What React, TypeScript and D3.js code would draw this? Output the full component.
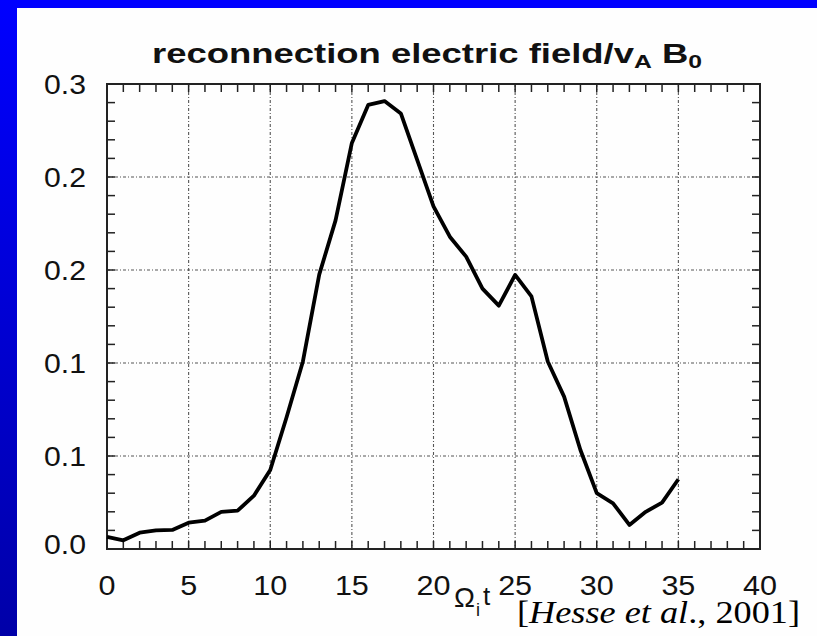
import React from "react";
import * as d3 from "d3";

const timeSteps = [0,1,2,3,4,5,6,7,8,9,10,11,12,13,14,15,16,17,18,19,20,21,22,23,24,25,26,27,28,29,30,31,32,33,34,35];
const efield = [0.0078,0.0056,0.0105,0.012,0.0123,0.017,0.0183,0.024,0.0247,0.0344,0.051,0.085,0.121,0.177,0.212,0.262,0.2865,0.289,0.281,0.251,0.221,0.2015,0.1886,0.168,0.157,0.1768,0.163,0.121,0.0983,0.0639,0.036,0.0295,0.0155,0.024,0.0299,0.045];
const xTicks = [0,5,10,15,20,25,30,35,40];
const xTickLabels = ["0","5","10","15","20","25","30","35","40"];
const yTicks = [0,0.06,0.12,0.18,0.24,0.3];
const yTickLabels = ["0.0","0.1","0.1","0.2","0.2","0.3"];

const W = 817, H = 636;
const L = 107, R = 760, T = 84, B = 549;

export default function App() {
  const x = d3.scaleLinear().domain([0, 40]).range([L, R]);
  const y = d3.scaleLinear().domain([0, 0.3]).range([B, T]);
  const line = d3.line<number>().x((_, i) => x(timeSteps[i])).y(d => y(d));
  const xMinor = d3.range(0, 41, 1);
  const yMinor = d3.range(0, 0.3001, 0.012);
  const sans = "Arial, 'Liberation Sans', Helvetica, sans-serif";
  return (
    <svg width={W} height={H} style={{ position: "absolute", left: 0, top: 0 }}>
      <defs>
        <linearGradient id="blueSide" x1="0" y1="0" x2="0" y2="1">
          <stop offset="0" stopColor="#0000FF" />
          <stop offset="1" stopColor="#0000A8" />
        </linearGradient>
      </defs>
      <rect x={0} y={0} width={W} height={H} fill="#FEFEFE" />
      <rect x={0} y={0} width={W} height={8} fill="#0000FF" />
      <rect x={0} y={0} width={17} height={H} fill="url(#blueSide)" />

      {/* grid */}
      <g stroke="#555" strokeWidth={1.1} strokeDasharray="3,2,1,2">
        {xTicks.filter(v => v > 0 && v < 40).map(v => (
          <line key={"gx" + v} x1={x(v)} x2={x(v)} y1={T} y2={B} />
        ))}
        {yTicks.filter(v => v > 0 && v < 0.3).map(v => (
          <line key={"gy" + v} x1={L} x2={R} y1={y(v)} y2={y(v)} />
        ))}
      </g>

      {/* minor ticks */}
      <g stroke="#222" strokeWidth={1.5}>
        {xMinor.map(v => (
          <g key={"tx" + v}>
            <line x1={x(v)} x2={x(v)} y1={B} y2={B - 8} />
            <line x1={x(v)} x2={x(v)} y1={T} y2={T + 8} />
          </g>
        ))}
        {yMinor.map((v, i) => (
          <g key={"ty" + i}>
            <line x1={L} x2={L + 8} y1={y(v)} y2={y(v)} />
            <line x1={R} x2={R - 8} y1={y(v)} y2={y(v)} />
          </g>
        ))}
      </g>

      {/* frame */}
      <rect x={L} y={T} width={R - L} height={B - T} fill="none" stroke="#222" strokeWidth={2} />

      {/* curve */}
      <path d={line(efield) || ""} fill="none" stroke="#000" strokeWidth={3.8} strokeLinejoin="round" />

      {/* tick labels */}
      <g fontFamily={sans} fontSize={27} fill="#111">
        {yTicks.map((v, i) => (
          <text key={"yl" + i} x={86} y={y(v) + 9.5 - (i === 0 ? 5 : 0)} textAnchor="end" textLength={42} lengthAdjust="spacingAndGlyphs">
            {yTickLabels[i]}
          </text>
        ))}
        {xTicks.map((v, i) => (
          <text key={"xl" + i} x={x(v)} y={595} textAnchor="middle" textLength={xTickLabels[i].length * 17} lengthAdjust="spacingAndGlyphs">
            {xTickLabels[i]}
          </text>
        ))}
      </g>

      {/* x axis label */}
      <g fontFamily={sans} fill="#111">
        <text x={454} y={607} fontSize={28}>Ω</text>
        <text x={476} y={616} fontSize={18}>i</text>
        <text x={483} y={605} fontSize={26}>t</text>
      </g>

      {/* title */}
      <text x={152} y={63} fontFamily={sans} fontWeight="bold" fontSize={28} fill="#111" textLength={550} lengthAdjust="spacingAndGlyphs">
        reconnection  electric  field/v<tspan fontSize={19} dy={5}>A</tspan><tspan dy={-5}> B</tspan><tspan fontSize={19} dy={5}>0</tspan>
      </text>

      {/* citation */}
      <text x={800} y={623} textAnchor="end" fontFamily="'Liberation Serif', 'Times New Roman', serif" fontSize={32} fill="#000" textLength={283} lengthAdjust="spacingAndGlyphs">
        [<tspan fontStyle="italic">Hesse et al</tspan>., 2001]
      </text>
    </svg>
  );
}
